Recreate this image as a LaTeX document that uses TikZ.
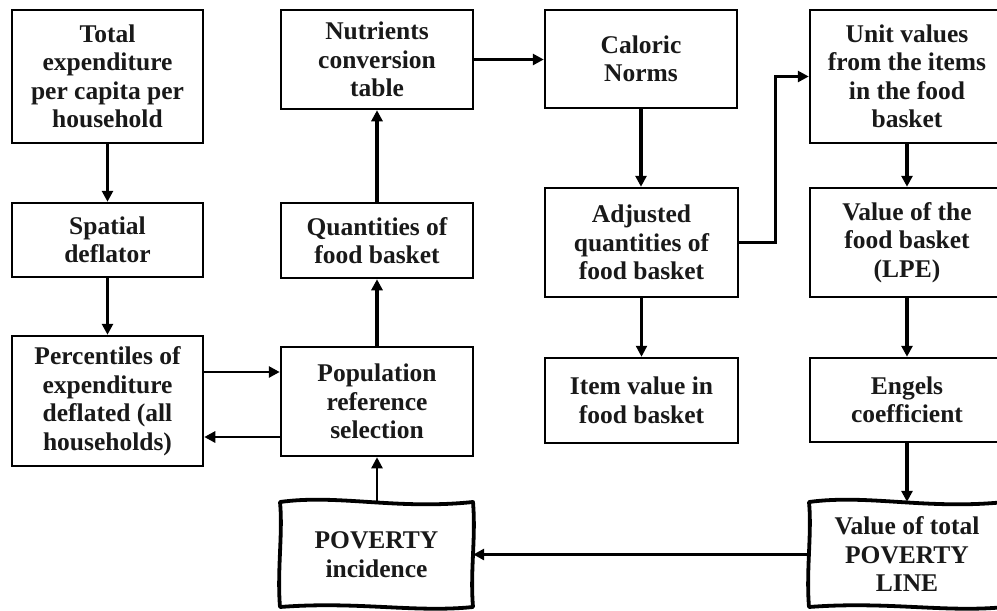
\documentclass[tikz,border=0pt]{standalone}
\usepackage{fontspec}
\setmainfont{Liberation Serif}
\usetikzlibrary{arrows.meta}
\newcommand\wavyrect[4]{%
 \draw[line width=3.8pt, line join=round] (#1,#2)
   .. controls ({#1+0.3*(#3-#1)},{#2-8}) and ({#1+0.6*(#3-#1)},{#2+8}) .. (#3,#2)
   .. controls ({#3+3},{#2+0.35*(#4-#2)}) and ({#3-3},{#2+0.65*(#4-#2)}) .. (#3,#4)
   .. controls ({#3-0.3*(#3-#1)},{#4+6}) and ({#1+0.4*(#3-#1)},{#4-6}) .. (#1,#4)
   .. controls ({#1-3},{#4-0.35*(#4-#2)}) and ({#1+3},{#2+0.3*(#4-#2)}) .. cycle;}
\begin{document}
\begin{tikzpicture}[x=1pt,y=-1pt,
  txt/.style={align=center, inner sep=0pt, text=black!90,
    font=\fontsize{25.5}{28.5}\selectfont\bfseries},
  box/.style={txt, draw, line width=2.5pt},
  wbox/.style={txt},
  arr/.style={line width=3.3pt, -{Triangle[length=11pt,width=11pt]}},
  midarr/.style={line width=2.8pt, -{Triangle[length=11pt,width=11pt]}},
  thinarr/.style={line width=2.3pt, -{Triangle[length=11pt,width=11pt]}},
]
\useasboundingbox (0,0) rectangle (997,611);

% column 1
\node[box, minimum width=191pt, minimum height=133pt] (tot) at (107.5,76.5)
  {Total\\expenditure\\per capita per\\household};
\node[box, minimum width=191pt, minimum height=74pt] (spa) at (107.5,240)
  {Spatial\\deflator};
\node[box, minimum width=191pt, minimum height=130pt] (per) at (107.5,401)
  {Percentiles of\\expenditure\\deflated (all\\households)};

% column 2
\node[box, minimum width=192pt, minimum height=99pt] (nut) at (377,59.5)
  {Nutrients\\conversion\\table};
\node[box, minimum width=192pt, minimum height=75pt] (qua) at (377,240.5)
  {Quantities of\\food basket};
\node[box, minimum width=192pt, minimum height=109pt] (pop) at (377,401.5)
  {Population\\reference\\selection};
\node[wbox, minimum width=193pt, minimum height=105pt] (pov) at (376.5,554.5)
  {POVERTY\\incidence};
\wavyrect{280}{502}{473}{607}

% column 3
\node[box, minimum width=192pt, minimum height=98pt] (cal) at (641,59)
  {Caloric\\Norms};
\node[box, minimum width=193pt, minimum height=109pt] (adj) at (641.5,242.5)
  {Adjusted\\quantities of\\food basket};
\node[box, minimum width=193pt, minimum height=85pt] (item) at (641.5,400.5)
  {Item value in\\food basket};

% column 4
\node[box, minimum width=194pt, minimum height=133pt] (unit) at (907,76.5)
  {Unit values\\from the items\\in the food\\basket};
\node[box, minimum width=194pt, minimum height=109pt] (val) at (907,242.5)
  {Value of the\\food basket\\(LPE)};
\node[box, minimum width=194pt, minimum height=84pt] (eng) at (907,400)
  {Engels\\coefficient};
\node[wbox, minimum width=196pt, minimum height=105pt] (tpl) at (907,554.5)
  {Value of total\\POVERTY\\LINE};
\wavyrect{809}{502}{1005}{607}

% connectors
\draw[arr] (tot) -- (spa);
\draw[arr] (spa) -- (per);
\draw[midarr] ([yshift=29pt]per.east) -- ([yshift=29pt]per.east -| pop.west);
\draw[midarr] ([yshift=-35.5pt]pop.west) -- ([yshift=-35.5pt]pop.west -| per.east);
\draw[thinarr] (pop |- pov.north) -- (pop.south);
\draw[arr] (pop) -- (qua);
\draw[arr] (qua) -- (nut);
\draw[arr] (nut.east) -- (nut.east -| cal.west);
\draw[arr] (cal.south) -- (cal.south |- adj.north);
\draw[thinarr] (adj) -- (item);
\draw[arr] (adj.east) -- ++(36,0) |- (unit.west);
\draw[arr] (unit) -- (val);
\draw[arr] (val) -- (eng);
\draw[arr] (eng) -- (tpl.north);
\draw[arr] (tpl.west) -- (pov.east);
\end{tikzpicture}
\end{document}
